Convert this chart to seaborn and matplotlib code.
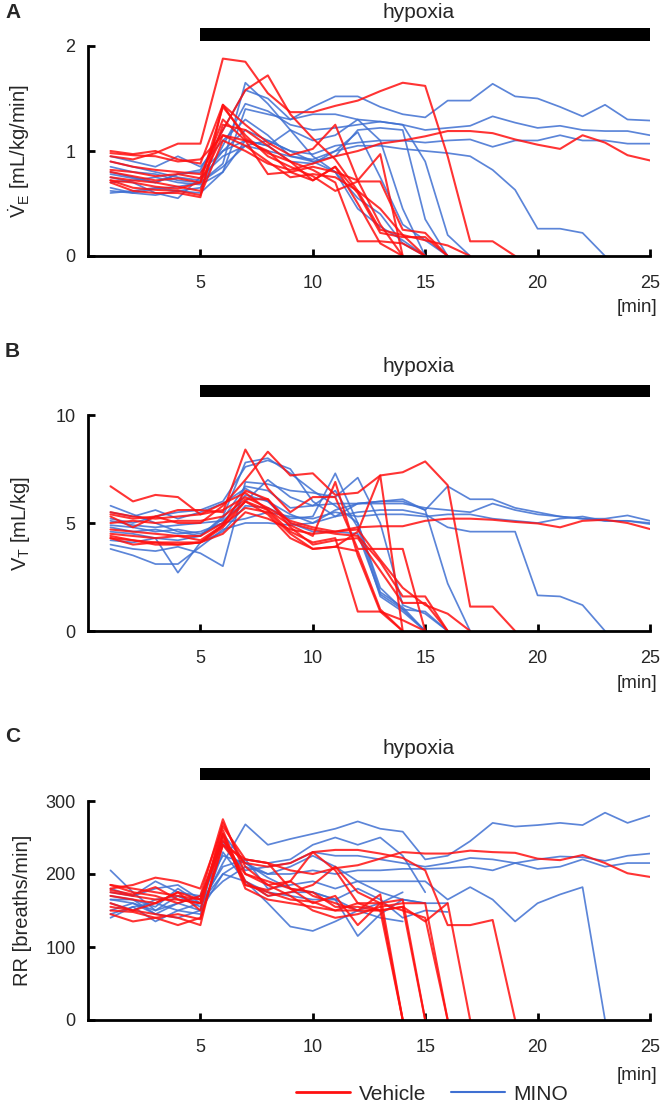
import numpy as np
import pandas as pd
import matplotlib.pyplot as plt
import seaborn as sns
from matplotlib.patches import Rectangle
from matplotlib.lines import Line2D

# minute-by-minute traces (minute 1 onwards), one list per animal
VE_VEHICLE = [
    [0.95, 0.92, 0.98, 1.07, 1.07, 1.88, 1.85, 1.55, 1.37, 1.37, 1.43, 1.48, 1.57, 1.65, 1.62, 0.95, 0.14, 0.14, 0.0],
    [0.72, 0.65, 0.63, 0.62, 0.58, 1.10, 1.00, 0.88, 0.82, 0.88, 0.95, 1.00, 1.07, 1.10, 1.14, 1.19, 1.19, 1.17, 1.11, 1.06, 1.02, 1.15, 1.08, 0.96, 0.91],
    [0.90, 0.85, 0.82, 0.80, 0.78, 1.20, 1.58, 1.72, 1.35, 1.12, 0.92, 0.62, 0.25, 0.20, 0.0],
    [1.00, 0.97, 1.00, 0.92, 0.88, 1.44, 1.25, 1.08, 0.96, 1.02, 1.25, 0.72, 0.30, 0.0],
    [0.80, 0.76, 0.72, 0.74, 0.70, 1.15, 1.10, 1.00, 0.80, 0.85, 0.80, 0.72, 0.97, 0.0],
    [0.70, 0.62, 0.60, 0.60, 0.56, 1.44, 1.12, 0.98, 0.90, 0.82, 0.70, 0.14, 0.14, 0.12, 0.0],
    [0.72, 0.70, 0.66, 0.64, 0.70, 1.42, 1.15, 0.95, 0.85, 0.76, 0.62, 0.71, 0.71, 0.25, 0.22, 0.0],
    [0.82, 0.80, 0.76, 0.78, 0.74, 1.30, 1.10, 0.78, 0.80, 0.72, 0.85, 0.60, 0.22, 0.18, 0.18, 0.0],
    [0.98, 0.96, 0.95, 0.90, 0.92, 1.15, 1.05, 0.90, 0.75, 0.78, 0.75, 0.62, 0.45, 0.20, 0.15, 0.10, 0.0],
    [0.75, 0.72, 0.70, 0.66, 0.62, 1.25, 1.20, 1.05, 0.90, 0.72, 0.85, 0.50, 0.12, 0.0],
]
VE_MINO = [
    [0.80, 0.75, 0.70, 0.78, 0.82, 1.20, 1.58, 1.50, 1.30, 1.42, 1.52, 1.52, 1.42, 1.35, 1.32, 1.48, 1.48, 1.64, 1.52, 1.50, 1.42, 1.33, 1.44, 1.30, 1.29],
    [0.65, 0.60, 0.58, 0.62, 0.65, 1.05, 1.45, 1.38, 1.25, 1.20, 1.22, 1.25, 1.28, 1.25, 1.20, 1.22, 1.24, 1.33, 1.27, 1.22, 1.24, 1.20, 1.19, 1.19, 1.15],
    [0.62, 0.60, 0.64, 0.66, 0.70, 0.85, 1.05, 1.10, 1.00, 0.97, 1.05, 1.08, 1.10, 1.10, 1.08, 1.10, 1.11, 1.04, 1.10, 1.10, 1.15, 1.10, 1.10, 1.07, 1.07],
    [0.75, 0.70, 0.60, 0.55, 0.75, 0.95, 1.05, 1.00, 0.95, 0.92, 1.00, 1.05, 1.05, 1.02, 1.00, 0.98, 0.95, 0.82, 0.63, 0.26, 0.26, 0.22, 0.0],
    [0.85, 0.80, 0.78, 0.72, 0.70, 0.88, 1.65, 1.45, 1.20, 0.95, 0.80, 0.45, 0.28, 0.15, 0.0],
    [0.60, 0.62, 0.65, 0.62, 0.60, 0.80, 1.10, 1.05, 1.20, 1.10, 1.15, 1.30, 1.10, 0.45, 0.0],
    [0.90, 0.85, 0.80, 0.75, 0.72, 1.00, 1.20, 1.10, 1.00, 0.90, 0.95, 1.20, 1.22, 1.20, 0.35, 0.0],
    [0.70, 0.72, 0.75, 0.70, 0.68, 0.80, 1.40, 1.35, 1.30, 1.35, 1.35, 1.30, 1.28, 1.25, 0.90, 0.20, 0.0],
    [0.78, 0.74, 0.70, 0.78, 0.80, 1.00, 1.10, 1.05, 0.90, 0.88, 1.00, 1.18, 0.75, 0.30, 0.15, 0.0],
    [0.95, 0.90, 0.85, 0.95, 0.85, 1.10, 1.30, 1.15, 0.95, 0.90, 0.80, 0.55, 0.40, 0.12, 0.0],
]

VT_VEHICLE = [
    [5.4, 5.2, 5.3, 5.0, 5.0, 5.8, 7.0, 8.3, 7.2, 7.3, 6.3, 6.4, 7.2, 7.35, 7.85, 6.75, 1.13, 1.13, 0.0],
    [4.3, 4.2, 4.1, 4.1, 4.1, 4.5, 5.5, 5.2, 4.7, 4.5, 4.6, 4.8, 4.85, 4.85, 5.1, 5.2, 5.2, 5.15, 5.05, 4.98, 4.8, 5.1, 5.15, 5.0, 4.72],
    [5.3, 4.8, 5.3, 5.6, 5.6, 5.5, 8.4, 6.6, 5.5, 6.2, 6.2, 3.8, 3.8, 3.8, 0.0],
    [6.7, 6.0, 6.3, 6.2, 5.4, 5.9, 6.4, 5.6, 4.9, 4.4, 6.9, 3.5, 0.9, 0.0],
    [4.7, 4.6, 4.5, 4.4, 4.4, 5.0, 6.0, 5.4, 4.3, 3.8, 3.9, 4.6, 7.2, 0.0],
    [4.4, 4.2, 4.0, 4.0, 4.1, 4.8, 6.0, 5.6, 4.6, 4.1, 4.3, 0.9, 0.9, 0.5, 0.0],
    [5.0, 5.1, 5.0, 5.1, 5.1, 5.3, 6.1, 6.1, 5.0, 4.7, 4.5, 4.4, 3.2, 1.6, 1.6, 0.0],
    [4.5, 4.4, 4.3, 4.4, 4.2, 4.9, 6.5, 6.1, 4.8, 4.0, 4.2, 4.3, 2.8, 1.3, 1.3, 0.0],
    [5.5, 5.3, 5.2, 5.3, 5.4, 5.6, 6.2, 5.7, 5.1, 4.8, 4.6, 4.7, 3.3, 2.0, 1.2, 0.8, 0.0],
    [4.3, 4.0, 4.1, 4.0, 4.1, 4.9, 5.7, 5.5, 4.5, 3.8, 3.9, 3.7, 1.0, 0.0],
]
VT_MINO = [
    [5.2, 5.0, 5.3, 5.5, 5.6, 6.0, 7.6, 7.9, 7.5, 6.0, 5.3, 5.9, 6.0, 6.1, 5.6, 6.7, 6.1, 6.1, 5.7, 5.5, 5.3, 5.2, 5.2, 5.35, 5.1],
    [4.6, 4.5, 4.3, 4.2, 4.4, 5.2, 6.7, 6.5, 5.7, 5.8, 5.9, 5.9, 5.9, 5.9, 5.7, 5.6, 5.5, 5.9, 5.6, 5.4, 5.3, 5.2, 5.1, 5.1, 5.0],
    [4.9, 4.8, 4.6, 4.7, 4.5, 5.0, 5.2, 5.5, 5.3, 5.2, 5.5, 5.3, 5.4, 5.4, 5.3, 5.4, 5.4, 5.2, 5.1, 5.0, 5.2, 5.3, 5.1, 5.1, 4.95],
    [3.8, 3.5, 3.1, 3.1, 3.9, 4.7, 5.0, 5.0, 4.9, 5.0, 5.3, 5.5, 5.6, 5.6, 5.4, 4.8, 4.6, 4.6, 4.6, 1.65, 1.6, 1.2, 0.0],
    [5.8, 5.4, 5.0, 4.6, 4.4, 5.3, 7.8, 8.0, 7.3, 6.5, 5.8, 5.0, 2.0, 1.0, 0.0],
    [4.2, 4.1, 4.3, 2.7, 4.1, 4.6, 5.8, 5.7, 5.2, 5.3, 7.3, 5.0, 1.8, 1.1, 0.0],
    [4.0, 3.8, 3.7, 3.9, 3.6, 3.0, 6.9, 6.8, 6.5, 6.4, 6.2, 7.1, 5.0, 1.2, 0.8, 0.0],
    [5.5, 5.3, 5.6, 5.2, 5.5, 5.9, 6.6, 6.0, 5.4, 5.0, 5.6, 5.9, 6.0, 6.0, 5.6, 2.2, 0.0],
    [4.8, 4.6, 4.7, 4.5, 4.6, 5.0, 6.3, 6.0, 5.0, 4.6, 4.6, 4.5, 1.7, 1.0, 0.9, 0.0],
    [5.1, 4.9, 4.8, 4.9, 5.0, 5.1, 6.0, 7.0, 6.2, 5.8, 6.5, 4.8, 1.6, 0.9, 0.0],
]

RR_VEHICLE = [
    [185, 180, 175, 170, 165, 245, 215, 210, 215, 230, 233, 233, 228, 222, 205, 130, 130, 137, 0],
    [150, 148, 140, 145, 138, 240, 220, 215, 205, 200, 208, 212, 221, 230, 228, 228, 232, 230, 229, 221, 219, 226, 215, 201, 196],
    [178, 172, 182, 165, 160, 260, 185, 178, 190, 230, 205, 160, 150, 155, 0],
    [170, 165, 160, 175, 150, 270, 210, 185, 190, 170, 160, 150, 172, 0],
    [160, 150, 145, 140, 130, 255, 180, 165, 160, 155, 150, 150, 150, 0],
    [175, 170, 165, 165, 160, 250, 185, 175, 165, 162, 150, 160, 160, 165, 0],
    [145, 135, 140, 130, 140, 240, 200, 185, 170, 150, 140, 145, 155, 160, 160, 0],
    [155, 150, 160, 175, 165, 255, 190, 170, 175, 185, 210, 175, 160, 150, 140, 0],
    [180, 185, 195, 190, 180, 265, 220, 215, 180, 175, 155, 155, 150, 155, 135, 160, 0],
    [185, 175, 170, 160, 170, 275, 200, 190, 180, 160, 170, 130, 160, 0],
]
RR_MINO = [
    [160, 150, 165, 170, 155, 215, 268, 240, 248, 255, 262, 272, 262, 258, 220, 225, 245, 270, 265, 267, 270, 267, 284, 270, 280],
    [175, 170, 180, 185, 165, 240, 205, 210, 215, 230, 225, 225, 220, 215, 210, 215, 222, 220, 215, 220, 224, 223, 218, 225, 228],
    [145, 155, 160, 150, 160, 190, 210, 200, 200, 205, 200, 205, 205, 207, 207, 208, 210, 205, 215, 207, 210, 220, 210, 215, 215],
    [205, 175, 150, 170, 160, 200, 220, 180, 185, 190, 180, 190, 190, 190, 190, 165, 182, 165, 135, 160, 172, 182, 0],
    [165, 160, 150, 160, 150, 255, 215, 195, 180, 175, 165, 150, 160, 175],
    [140, 155, 135, 150, 145, 230, 190, 160, 128, 122, 135, 150, 140, 135],
    [170, 165, 145, 160, 170, 245, 190, 170, 175, 175, 165, 115, 145, 165, 160],
    [180, 170, 190, 175, 170, 225, 215, 200, 210, 225, 210, 190, 175, 165, 160, 160],
    [150, 160, 145, 140, 150, 200, 190, 175, 170, 165, 165, 180, 165, 140, 150, 148],
    [165, 165, 155, 180, 160, 210, 220, 215, 220, 240, 250, 240, 250, 225, 175],
]

X_TICKS = [5, 10, 15, 20, 25]
PANELS = [
    ("A", VE_VEHICLE, VE_MINO, [0, 1, 2], r"$\dot{\mathrm{V}}_{\mathrm{E}}$ [mL/kg/min]"),
    ("B", VT_VEHICLE, VT_MINO, [0, 5, 10], r"V$_{\mathrm{T}}$ [mL/kg]"),
    ("C", RR_VEHICLE, RR_MINO, [0, 100, 200, 300], "RR [breaths/min]"),
]
GROUPS = ["Vehicle", "MINO"]
RED = "#ff1010"
BLUE = "#3f70d2"


def toLong(vehicle, mino):
    rows = []
    for group, traces in (("Vehicle", vehicle), ("MINO", mino)):
        for i, trace in enumerate(traces):
            for m, v in enumerate(trace, start=1):
                rows.append((group, f"{group}{i}", m, v))
    return pd.DataFrame(rows, columns=["group", "rat", "minute", "value"])


sns.set_style("ticks")
plt.rcParams["font.family"] = ["Liberation Sans", "DejaVu Sans"]
plt.rcParams["mathtext.fontset"] = "custom"
plt.rcParams["mathtext.rm"] = "Liberation Sans"
plt.rcParams["mathtext.it"] = "Liberation Sans:italic"

fig = plt.figure(figsize=(6.61, 11.08), dpi=100)
W, H = 661, 1108

# axes boxes in pixels: top, bottom
boxes = [(46, 256), (415, 631), (801, 1020)]
bars = [(28, 41), (385, 397), (768, 780)]
hyp_y = [12, 367, 748]
letter_y = [12, 351, 736]
min_y = [308, 684, 1076]

for k, (letter, veh, mino, yt, ylab) in enumerate(PANELS):
    top, bot = boxes[k]
    ax = fig.add_axes([88 / W, 1 - bot / H, (650 - 88) / W, (bot - top) / H])
    df = toLong(veh, mino)

    sns.lineplot(data=df[df["group"] == "MINO"], x="minute", y="value", units="rat",
                 estimator=None, color=BLUE, lw=1.25, alpha=0.85, ax=ax)
    sns.lineplot(data=df[df["group"] == "Vehicle"], x="minute", y="value", units="rat",
                 estimator=None, color=RED, lw=1.5, alpha=0.85, ax=ax)

    ax.set_xlim(0, 25)
    ax.set_ylim(yt[0], yt[-1])
    ax.set_xticks(X_TICKS)
    ax.set_yticks(yt)
    ax.set_xlabel("")
    ax.set_ylabel(ylab, fontsize=14.5)
    ax.yaxis.set_label_coords(-0.1, 0.5)
    ax.tick_params(direction="in", length=5, width=2, labelsize=13, color="black")
    ax.tick_params(axis="x", pad=14)
    ax.tick_params(axis="y", pad=9)
    for s in ["top", "right"]:
        ax.spines[s].set_visible(False)
    for s in ["left", "bottom"]:
        ax.spines[s].set_linewidth(2)
        ax.spines[s].set_color("black")

    # hypoxia bar above the axes
    h = bot - top
    y0 = (bot - bars[k][1]) / h
    bh = (bars[k][1] - bars[k][0]) / h
    ax.add_patch(Rectangle((5, y0), 20, bh, transform=ax.get_xaxis_transform(),
                           clip_on=False, color="black", lw=0))
    fig.text(419 / W, 1 - hyp_y[k] / H, "hypoxia", fontsize=15, ha="center", va="center")
    fig.text(5 / W, 1 - letter_y[k] / H, letter, fontsize=15, fontweight="bold", ha="left", va="center")
    fig.text(657 / W, 1 - min_y[k] / H, "[min]", fontsize=13.5, ha="right", va="center")

handles = [Line2D([], [], color=RED, lw=2), Line2D([], [], color=BLUE, lw=1.5)]
fig.legend(handles, GROUPS, loc="center", bbox_to_anchor=(432 / W, 1 - 1094 / H), ncol=2,
           frameon=False, fontsize=15, handlelength=2.6, columnspacing=1.2, handletextpad=0.4)

fig.savefig("out.png", dpi=100)
